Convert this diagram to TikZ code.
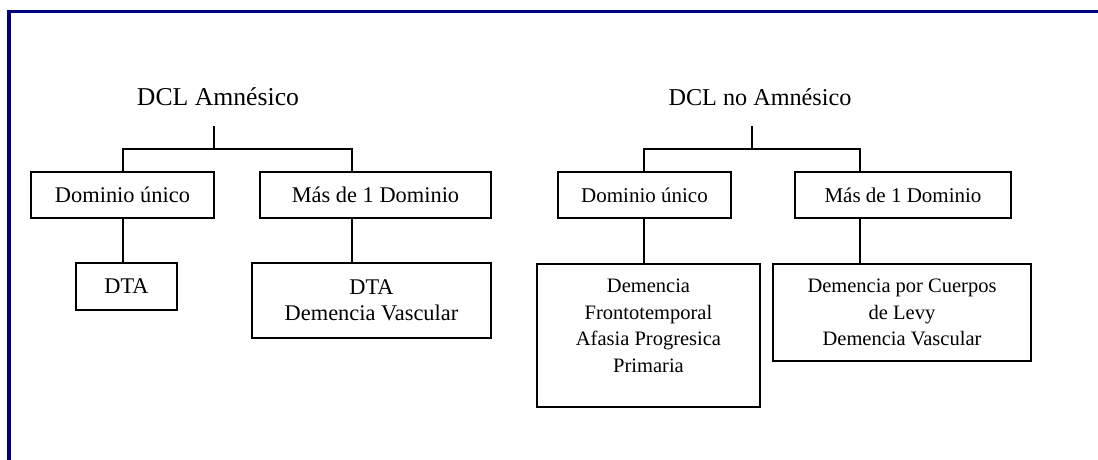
\documentclass[tikz,border=0pt]{standalone}
\usepackage{fontspec}
\setmainfont{Liberation Serif}
\definecolor{marco}{RGB}{0,0,128}

\begin{document}
\begin{tikzpicture}[x=1pt, y=-1pt,
	caja/.style={draw, line width=1.6pt, inner sep=0pt, align=center},
	titulo/.style={anchor=base, inner xsep=0pt, inner ysep=21pt},
	rama/.style={line width=1.6pt},
	izq/.style={font=\fontsize{22.4}{26}\selectfont},
	izqtit/.style={font=\fontsize{25.7}{30}\selectfont},
	der/.style={font=\fontsize{21}{26.5}\selectfont},
	dertit/.style={font=\fontsize{24.2}{29}\selectfont},
	hoja/.style={font=\fontsize{20.5}{26.5}\selectfont}]
	\useasboundingbox (0,0) rectangle (1098,459);
	%%%	Marco
	\draw[marco, line width=3.5pt] (1100,11.5) -- (9,11.5) -- (9,462);
	%%%	DCL Amnesico
	\node[titulo, izqtit] (tA) at (218,105) {DCL Amnésico};
	\node[caja, izq, minimum width=183, minimum height=46] (uA) at (122.5,195) {Dominio único};
	\node[caja, izq, minimum width=231, minimum height=46] (mA) at (375.5,195) {Más de 1 Dominio};
	\node[caja, izq, minimum width=101, minimum height=47] (dA) at (126.5,286.5) {DTA};
	\node[caja, izq, minimum width=239, minimum height=75] (vA) at (371.5,300.5) {DTA\\Demencia Vascular};
	\coordinate (jA) at (214,149);
	\coordinate (lA) at (123,149);
	\coordinate (rA) at (352,149);
	\draw[rama] (tA.south -| jA) -- (jA);
	\draw[rama] (lA |- uA.north) -- (lA) -- (rA) -- (rA |- mA.north);
	\draw[rama] (lA |- uA.south) -- (lA |- dA.north);
	\draw[rama] (rA |- mA.south) -- (rA |- vA.north);
	%%%	DCL no Amnesico
	\node[titulo, dertit] (tB) at (760,105) {DCL no Amnésico};
	\node[caja, der, minimum width=173, minimum height=46] (uB) at (644.5,195) {Dominio único};
	\node[caja, der, minimum width=216, minimum height=46] (mB) at (903,195) {Más de 1 Dominio};
	\node[caja, hoja, minimum width=223, minimum height=143] (fB) at (648.5,335.5) {Demencia\\Frontotemporal\\Afasia Progresica\\Primaria\\[-7pt]~};
	\node[caja, hoja, minimum width=258, minimum height=97] (cB) at (902,312.5) {Demencia por Cuerpos\\de Levy\\Demencia Vascular};
	\coordinate (jB) at (752,149);
	\coordinate (lB) at (644,149);
	\coordinate (rB) at (860,149);
	\draw[rama] (tB.south -| jB) -- (jB);
	\draw[rama] (lB |- uB.north) -- (lB) -- (rB) -- (rB |- mB.north);
	\draw[rama] (lB |- uB.south) -- (lB |- fB.north);
	\draw[rama] (rB |- mB.south) -- (rB |- cB.north);
\end{tikzpicture}
\end{document}
